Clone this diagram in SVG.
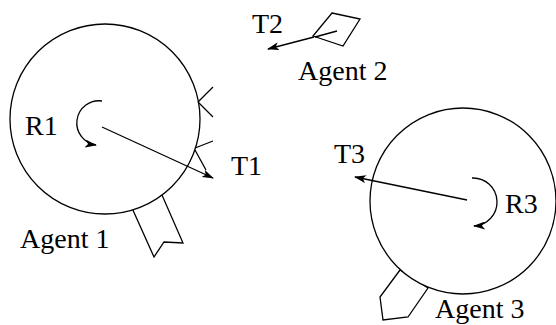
<svg xmlns="http://www.w3.org/2000/svg" width="556" height="325" viewBox="0 0 556 325">
<style>
.ln{fill:none;stroke:#000;stroke-width:1.3}
.sh{fill:#fff;stroke:#000;stroke-width:1.3;stroke-linejoin:miter}
.t{font-family:'Liberation Serif','DejaVu Serif',serif;font-size:28px;fill:#000}
</style>
<defs>
<marker id="ah" viewBox="0 0 12 8" refX="11" refY="4" markerWidth="12" markerHeight="8" markerUnits="userSpaceOnUse" orient="auto">
<path d="M0,0 L12,4 L0,8 L3,4 Z" fill="#000"/>
</marker>
</defs>
<rect width="556" height="325" fill="#fff"/>
<g id="agent1">
<polygon class="sh" points="132,208 154,257 164,242 183,243 162,195"/>
<circle class="sh" cx="105" cy="119" r="95"/>
<text class="t" x="25" y="135">R1</text>
<text class="t" x="20" y="248">Agent 1</text>
</g>
<g id="agent2">
<polygon class="sh" points="332,13 360,19 343,46 313,36"/>
<text class="t" x="298" y="80">Agent 2</text>
<text class="t" x="252" y="33">T2</text>
</g>
<g id="agent3">
<polygon class="sh" points="400,270 380,297 383,320 408,317 428,288"/>
<circle class="sh" cx="463" cy="201" r="93"/>
<text class="t" x="505" y="213">R3</text>
<text class="t" x="334" y="163">T3</text>
<text class="t" x="435" y="318">Agent 3</text>
</g>
<g id="marks">
<path class="ln" d="M198,102 L213,87 M198,102 L213,117 M195,148 L213,141 M195,150 L206,170"/>
<text class="t" x="231" y="175">T1</text>
</g>
<g id="connectors">
<path class="ln" d="M102,101 A22,22 0 1 0 96,145" marker-end="url(#ah)"/>
<path class="ln" d="M102,127 L213,178" marker-end="url(#ah)"/>
<path class="ln" d="M315,37 L337,31"/>
<path class="ln" d="M314,37 L268,49" marker-end="url(#ah)"/>
<path class="ln" d="M472,178 A23,23 0 0 1 474,226" marker-end="url(#ah)"/>
<path class="ln" d="M467,200 L355,177" marker-end="url(#ah)"/>
</g>
</svg>
